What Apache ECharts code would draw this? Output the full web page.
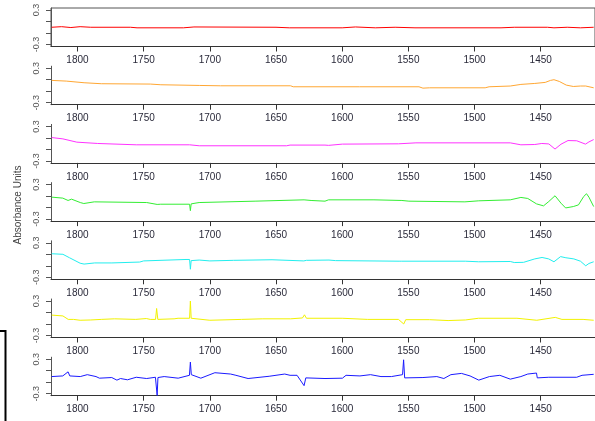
<!DOCTYPE html>
<html>
<head>
<meta charset="utf-8">
<script src="https://cdn.jsdelivr.net/npm/echarts@6/dist/echarts.min.js"></script>
<style>html,body{margin:0;padding:0;background:#fff;}#c{width:595px;height:421px;}</style>
</head>
<body>
<div id="c"></div>
<script>
const xTicks = [1800, 1750, 1700, 1650, 1600, 1550, 1500, 1450];
const yTicks = [-0.3, -0.1, 0.1, 0.3];
const yLabels = [-0.3, 0.3];
const yTitle = 'Absorbance Units';

const redX = [1819.5,1812,1805,1798,1790,1760,1755,1720,1712,1650,1640,1600,1590,1575,1560,1545,1480,1470,1445,1440,1430,1420,1410];
const redY = [0.0,0.01,-0.005,0.01,0.0,0.0,-0.01,-0.01,0.005,0.0,-0.01,-0.01,0.005,-0.01,0.0,-0.01,-0.01,0.0,0.0,-0.01,0.0,-0.01,0.0];

const orangeX = [1819.5,1808.5,1795,1782,1745,1737,1708,1692,1639,1637,1587,1542,1539,1534,1492,1489,1473,1465,1454.5,1446.6,1442.6,1440,1436,1430.7,1425.4,1420,1416,1410];
const orangeY = [0.088,0.076,0.047,0.03,0.024,0.012,0.0,-0.006,-0.006,-0.023,-0.023,-0.023,-0.047,-0.041,-0.041,-0.023,-0.01,0.018,0.035,0.053,0.088,0.1,0.07,0.006,-0.018,-0.01,-0.01,-0.041];

const magentaX = [1819.5,1811,1800.5,1784.7,1755.6,1715.3,1714.7,1714.1,1708,1642,1639.4,1613,1610.3,1599.8,1557.5,1544.3,1473,1465,1454.5,1449.2,1443.9,1439.2,1434.7,1429.4,1422.8,1416.2,1413.6,1410];
const magentaY = [0.106,0.083,0.026,0.003,-0.02,-0.02,0.0,-0.025,-0.037,-0.037,-0.025,-0.025,-0.03,-0.008,-0.003,0.014,0.014,-0.02,-0.015,0.003,-0.005,-0.094,-0.01,0.054,0.05,-0.008,0.03,0.071];

const greenX = [1819.5,1811.1,1807.1,1804.5,1797.9,1795.2,1787.3,1747.7,1739.8,1737.1,1715.3,1714.7,1714.1,1708.1,1665.8,1628.8,1623.5,1613,1610.3,1576,1554.9,1553.5,1549.6,1507.3,1496.8,1473,1465,1459.8,1453.2,1447.9,1443.9,1439.2,1434.7,1431.2,1425.4,1421.5,1417.5,1415.4,1413.6,1410];
const greenY = [0.082,0.065,0.024,0.047,-0.012,-0.029,0.0,-0.012,-0.045,-0.041,-0.041,-0.153,-0.035,-0.012,0.012,0.035,0.024,0.012,0.035,0.035,0.024,0.047,0.012,0.0,0.018,0.035,0.077,0.059,-0.035,-0.07,0.006,0.106,-0.023,-0.106,-0.082,-0.053,0.094,0.141,0.082,-0.082];

const cyanX = [1819.5,1811,1806,1798,1795,1787,1774,1753,1750,1718,1715.3,1714.7,1714.1,1708,1700,1682,1653,1629,1627,1610,1605,1557,1555,1507,1497,1473,1470,1463,1454.5,1449,1444,1440,1435,1431,1425,1420,1416,1413.6,1410];
const cyanY = [0.11,0.1,0.04,-0.055,-0.07,-0.05,-0.05,-0.035,-0.015,0.01,0.01,-0.16,-0.01,0.0,-0.015,-0.005,0.005,-0.015,-0.005,0.0,-0.01,-0.02,-0.02,-0.02,-0.03,-0.025,-0.043,-0.04,0.02,0.045,0.02,-0.03,0.06,0.04,0.02,-0.02,-0.1,-0.06,-0.03];

const yellowX = [1819.5,1811,1807,1803,1798,1790,1782,1772,1756,1748,1745,1741,1740.2,1739.3,1727,1724,1715.3,1714.7,1714.1,1700,1676,1660,1639,1630,1628.5,1627,1600,1581,1557.5,1553.5,1552,1534,1520,1507,1497,1468,1453,1439,1434,1418,1410];
const yellowY = [0.055,0.04,-0.02,-0.02,-0.035,-0.03,-0.02,-0.01,-0.02,-0.005,-0.02,-0.02,0.17,-0.02,-0.01,0.0,0.0,0.3,0.0,-0.035,-0.02,-0.01,-0.01,0.005,0.06,0.0,0.0,-0.02,-0.02,-0.1,-0.025,-0.025,-0.04,-0.03,0.0,0.0,-0.035,0.015,-0.02,-0.02,-0.035];

const blueX = [1819.5,1811.1,1807.1,1805.8,1797.9,1792.6,1786,1783.4,1774.1,1770.2,1767.5,1762.2,1755.6,1747.7,1741.1,1739.8,1739.2,1734.5,1723.9,1715.4,1714.7,1714.0,1706.8,1705.4,1696.2,1684.3,1680.3,1671.1,1655.2,1643.4,1639.4,1634.1,1628.8,1627.5,1613,1599.8,1597.1,1586.6,1578.6,1570.7,1562.8,1554.4,1553.6,1552.8,1539,1528.5,1523.2,1517.9,1509.9,1503.4,1496.8,1488.8,1480.9,1473,1465,1459.8,1453.2,1452.6,1443.9,1422.8,1418.8,1410];
const blueY = [-0.002,0.009,0.08,0.009,-0.002,0.031,-0.002,-0.03,-0.019,-0.064,-0.036,-0.058,-0.014,-0.036,-0.014,-0.33,-0.019,-0.002,-0.03,0.02,0.25,0.031,-0.03,-0.002,0.065,0.042,0.02,-0.036,0.003,0.042,0.02,0.02,-0.16,-0.025,-0.036,-0.03,0.02,0.009,0.031,-0.002,-0.002,0.031,0.29,-0.025,-0.019,-0.002,-0.036,0.031,0.053,0.009,-0.064,-0.002,0.02,-0.047,-0.002,0.042,0.059,-0.025,-0.014,-0.014,0.02,0.037];

const panels = [
  {x: redX, y: redY, color: '#ff0000'},
  {x: orangeX, y: orangeY, color: '#ffa733'},
  {x: magentaX, y: magentaY, color: '#ff33ff'},
  {x: greenX, y: greenY, color: '#33ee33'},
  {x: cyanX, y: cyanY, color: '#22eeee'},
  {x: yellowX, y: yellowY, color: '#f2f200'},
  {x: blueX, y: blueY, color: '#1a1aff'}
];

const FONT = 'Liberation Sans, Arial, sans-serif';
const chart = echarts.init(document.getElementById('c'), null, {renderer: 'canvas'});
const option = {
  animation: false,
  backgroundColor: '#fff',
  grid: panels.map((p, i) => ({
    left: 51, right: -2, top: 8 + 58.2 * i, height: 38.5,
    show: i === 0, borderColor: '#555', borderWidth: 1, backgroundColor: 'transparent'
  })),
  xAxis: panels.map((p, i) => ({
    gridIndex: i, type: 'value', inverse: true, min: 1409, max: 1820,
    axisLine: {show: true, onZero: false, lineStyle: {color: '#333', width: 1}},
    axisTick: {show: true, length: 5, customValues: xTicks, lineStyle: {color: '#333'}},
    axisLabel: {customValues: xTicks, fontSize: 10, color: '#2a2a3a', margin: 9, fontFamily: FONT,
      formatter: v => String(v)},
    splitLine: {show: false}
  })),
  yAxis: panels.map((p, i) => ({
    gridIndex: i, type: 'value', min: -0.335, max: 0.335,
    axisLine: {show: true, onZero: false, lineStyle: {color: '#555', width: 1}},
    axisTick: {show: true, length: 5, customValues: yTicks, lineStyle: {color: '#555'}},
    axisLabel: {customValues: yLabels, rotate: 90, fontSize: 9, color: '#555', margin: 10, fontFamily: FONT,
      formatter: v => String(v)},
    splitLine: {show: false}
  })),
  series: panels.map((p, i) => ({
    type: 'line', xAxisIndex: i, yAxisIndex: i,
    data: p.x.map((x, k) => [x, p.y[k]]),
    showSymbol: false, symbol: 'none', silent: true,
    lineStyle: {color: p.color, width: 1}
  })),
  graphic: [
    {type: 'text', x: 18, y: 205, rotation: Math.PI / 2,
      style: {text: yTitle, fontSize: 10, fontFamily: FONT, fill: '#444', align: 'center', verticalAlign: 'middle'}},
    {type: 'polyline', shape: {points: [[0, 331], [5.5, 331], [5.5, 421]]},
      style: {stroke: '#000', lineWidth: 2, fill: null}}
  ]
};
chart.setOption(option);
</script>
</body>
</html>
